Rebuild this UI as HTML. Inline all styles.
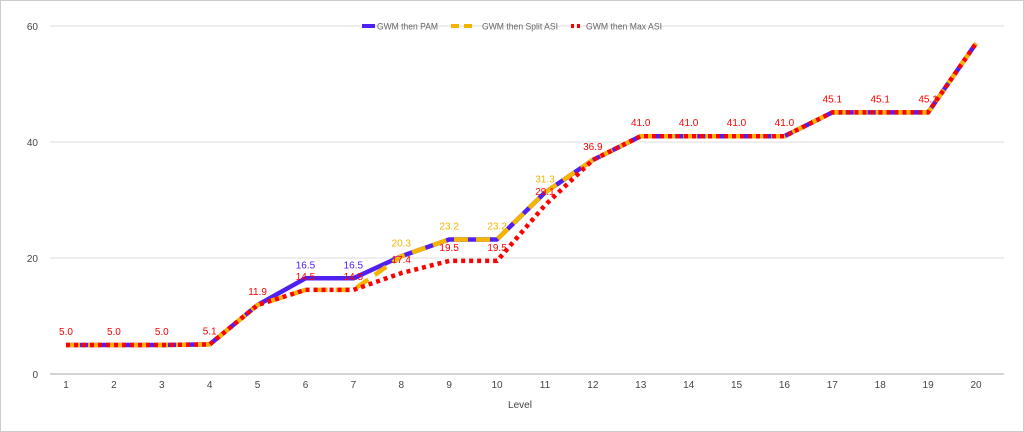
<!DOCTYPE html>
<html><head><meta charset="utf-8"><style>
body{margin:0;background:#fff;}
svg{display:block;font-family:"Liberation Sans",sans-serif;}
</style></head><body>
<svg id="chart" width="1024" height="432">
<rect x="0.5" y="0.5" width="1023" height="431" fill="#fff" stroke="#ccc"/>
<g id="grid"></g><g id="lines"></g><g id="labels"></g>
<g font-size="9" fill="#666">
<g><line x1="362" y1="26" x2="375" y2="26" stroke="#5020f0" stroke-width="4"/><text x="377" y="29.5" textLength="61" lengthAdjust="spacingAndGlyphs">GWM then PAM</text></g>
<g><line x1="451" y1="26" x2="476" y2="26" stroke="#f4b400" stroke-width="4" stroke-dasharray="8,5"/><text x="482" y="29.5" textLength="76" lengthAdjust="spacingAndGlyphs">GWM then Split ASI</text></g>
<g><line x1="571" y1="26" x2="580" y2="26" stroke="#ff0000" stroke-width="4" stroke-dasharray="3,3"/><text x="586" y="29.5" textLength="76" lengthAdjust="spacingAndGlyphs">GWM then Max ASI</text></g>
</g>
<text x="520" y="408" font-size="10" fill="#444" text-anchor="middle">Level</text>
</svg>
<script>
const levels=[1,2,3,4,5,6,7,8,9,10,11,12,13,14,15,16,17,18,19,20];
const pam=[5,5,5,5.1,11.9,16.5,16.5,20.3,23.2,23.2,31.3,36.9,41,41,41,41,45.1,45.1,45.1,57];
const split=[5,5,5,5.1,11.9,14.5,14.5,20.3,23.2,23.2,31.3,36.9,41,41,41,41,45.1,45.1,45.1,57];
const maxasi=[5,5,5,5.1,11.9,14.5,14.5,17.4,19.5,19.5,29.1,36.9,41,41,41,41,45.1,45.1,45.1,57];
const yTicks=[0,20,40,60];
const NS="http://www.w3.org/2000/svg";
const X=v=>66+(v-1)*(976-66)/19;
const Y=v=>374-v*(348/60);
function mk(t,a,p){const e=document.createElementNS(NS,t);for(const k in a)e.setAttribute(k,a[k]);p.appendChild(e);return e;}
const grid=document.getElementById('grid');
yTicks.forEach(t=>{
 const l=mk('line',{x1:50,x2:1004,y1:Y(t),y2:Y(t),stroke:t===0?'#aaa':'#ddd','stroke-width':1},grid);
 
 
 const tx=mk('text',{x:38,y:Y(t)+4,'font-size':10,fill:'#444','text-anchor':'end'},grid);
 tx.textContent=t;
 
 
});
levels.forEach(l=>{
 const tx=mk('text',{x:X(l),y:388,'font-size':10,fill:'#444','text-anchor':'middle'},grid);
 tx.textContent=l;
 
 
});
const lines=document.getElementById('lines');
function series(d,color,dash,name){
 const p=mk('polyline',{points:d.map((v,i)=>X(levels[i])+','+Y(v)).join(' '),fill:'none',stroke:color,'stroke-width':4.5,'stroke-dasharray':dash,'stroke-linejoin':'round'},lines);
 
 
}
series(pam,'#5020f0','none','series-pam');
series(split,'#f4b400','14,8','series-split-asi');
series(maxasi,'#ff0000','4,4','series-max-asi');
const lab=document.getElementById('labels');
function labels(d,color,name,skip){
 d.forEach((v,i)=>{
  if(skip&&skip(v,i))return;
  const t=mk('text',{x:X(levels[i]),y:Y(v)-10,'font-size':10,fill:color,'text-anchor':'middle'},lab);
  t.textContent=v.toFixed(1);
  
  
 });
}
labels(pam,'#5020f0','pam',(v,i)=>v===split[i]);
labels(split,'#f4b400','split',(v,i)=>v===maxasi[i]);
labels(maxasi,'#ff0000','max',(v,i)=>i===19);
</script>
</body></html>
